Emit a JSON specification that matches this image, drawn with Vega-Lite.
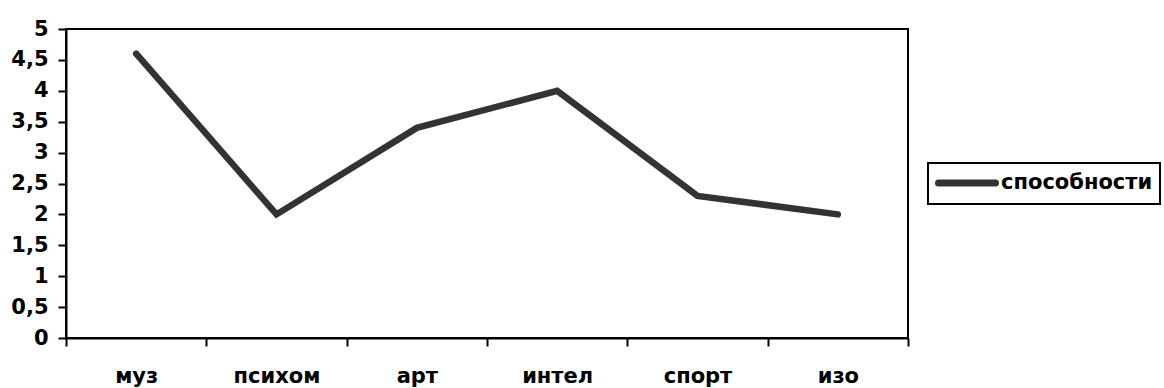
{
  "$schema": "https://vega.github.io/schema/vega-lite/v6.json",
  "width": 842,
  "height": 309,
  "autosize": {"type": "none"},
  "padding": {"left": 66, "top": 29, "right": 256, "bottom": 50},
  "background": "white",
  "config": {
    "font": "DejaVu Sans",
    "view": {"stroke": "black", "strokeWidth": 2}
  },
  "data": {
    "values": [
      {"cat": "муз", "value": 4.6, "series": "способности"},
      {"cat": "психом", "value": 2, "series": "способности"},
      {"cat": "арт", "value": 3.4, "series": "способности"},
      {"cat": "интел", "value": 4, "series": "способности"},
      {"cat": "спорт", "value": 2.3, "series": "способности"},
      {"cat": "изо", "value": 2, "series": "способности"}
    ]
  },
  "mark": {"type": "line", "strokeWidth": 6.5, "strokeCap": "round", "strokeJoin": "miter"},
  "encoding": {
    "x": {
      "field": "cat",
      "type": "nominal",
      "sort": null,
      "bandPosition": 0.5,
      "scale": {"type": "band", "paddingInner": 0, "paddingOuter": 0},
      "axis": {
        "title": null,
        "labelAngle": 0,
        "labelFont": "DejaVu Sans",
        "labelFontWeight": "bold",
        "labelFontSize": 21,
        "labelColor": "black",
        "labelPadding": 19,
        "tickBand": "extent",
        "tickColor": "black",
        "tickWidth": 2,
        "tickSize": 8,
        "domainColor": "black",
        "domainWidth": 2,
        "grid": false
      }
    },
    "y": {
      "field": "value",
      "type": "quantitative",
      "scale": {"domain": [0, 5], "nice": false},
      "axis": {
        "title": null,
        "values": [0, 0.5, 1, 1.5, 2, 2.5, 3, 3.5, 4, 4.5, 5],
        "labelExpr": "replace(format(datum.value, '~g'), '.', ',')",
        "labelFont": "DejaVu Sans",
        "labelFontWeight": "bold",
        "labelFontSize": 21,
        "labelColor": "black",
        "labelPadding": 10,
        "tickColor": "black",
        "tickWidth": 2,
        "tickSize": 8,
        "domainColor": "black",
        "domainWidth": 2,
        "grid": false
      }
    },
    "color": {
      "field": "series",
      "type": "nominal",
      "scale": {"range": ["#333333"]},
      "legend": {
        "title": null,
        "orient": "none",
        "legendX": 862,
        "legendY": 134,
        "strokeColor": "black",
        "fillColor": "white",
        "padding": 7,
        "symbolType": "M-1,0H5",
        "symbolStrokeWidth": 7,
        "symbolSize": 361,
        "labelFont": "DejaVu Sans",
        "labelFontWeight": "bold",
        "labelFontSize": 21,
        "labelColor": "black",
        "labelOffset": 40,
        "encode": {
          "legend": {"update": {"strokeWidth": {"value": 2}}},
          "symbols": {"update": {"strokeCap": {"value": "round"}}}
        }
      }
    }
  }
}
